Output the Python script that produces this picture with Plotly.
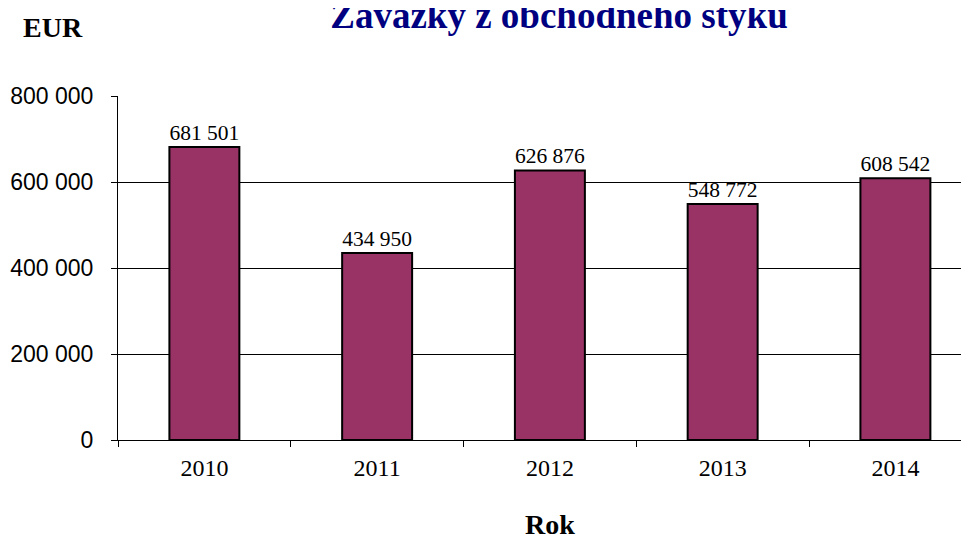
import plotly.graph_objects as go

years = ["2010", "2011", "2012", "2013", "2014"]
values = [681501, 434950, 626876, 548772, 608542]
y_ticks = [0, 200000, 400000, 600000, 800000]
y_tick_labels = ["0", "200 000", "400 000", "600 000", "800 000"]

serif = "Liberation Serif, Times New Roman, serif"
sans = "Liberation Sans, Arial, sans-serif"

# page has an 8px body margin; figure is sized/offset to compensate
W, H = 961, 536
L, R, T, B = 110, 0, 88, 104
PW, PH = W - L - R, H - T - B
PX0, PY0 = 118, 440  # page pixel of plot left / bottom


def px_x(x):
    return (x - PX0) / PW


def px_y(y):
    return (PY0 - y) / PH


fig = go.Figure(go.Bar(
    x=years, y=values,
    marker=dict(color="#993366", line=dict(color="black", width=2)),
    width=0.405,
    texttemplate="%{y:,d}", textposition="outside",
    textfont=dict(family=serif, size=25, color="black"),
    cliponaxis=False,
))

fig.update_layout(
    width=W, height=H,
    margin=dict(l=L, r=R, t=T, b=B),
    paper_bgcolor="white", plot_bgcolor="white",
    separators=". ",
    showlegend=False,
    title=dict(text="<b>Záväzky z obchodného styku</b>",
               font=dict(family=serif, size=37, color="#000080"),
               x=551 / W, xanchor="center", y=0.987, yanchor="middle", yref="container"),
    xaxis=dict(type="category", range=[-0.5, 4.426], tickson="boundaries",
               ticks="outside", ticklen=6,
               tickcolor="black", showline=True, linecolor="black", linewidth=1,
               ticklabelstandoff=6,
               tickfont=dict(family=serif, size=24, color="black"),
               showgrid=False),
    yaxis=dict(range=[0, 800000], tickvals=y_ticks, ticktext=y_tick_labels,
               ticks="outside", ticklen=6, tickcolor="black",
               showline=True, linecolor="black", linewidth=1,
               ticklabelstandoff=13,
               showgrid=True, gridcolor="black", gridwidth=1, zeroline=False,
               tickfont=dict(family=sans, size=23, color="black")),
    annotations=[
        dict(text="<b>EUR</b>", xref="paper", yref="paper",
             x=px_x(53), y=px_y(27),
             xanchor="center", yanchor="middle", showarrow=False,
             font=dict(family=serif, size=28, color="black")),
        dict(text="<b>Rok</b>", xref="paper", yref="paper",
             x=px_x(550), y=px_y(524),
             xanchor="center", yanchor="middle", showarrow=False,
             font=dict(family=serif, size=28, color="black")),
    ],
)

fig.write_html("out.html")
